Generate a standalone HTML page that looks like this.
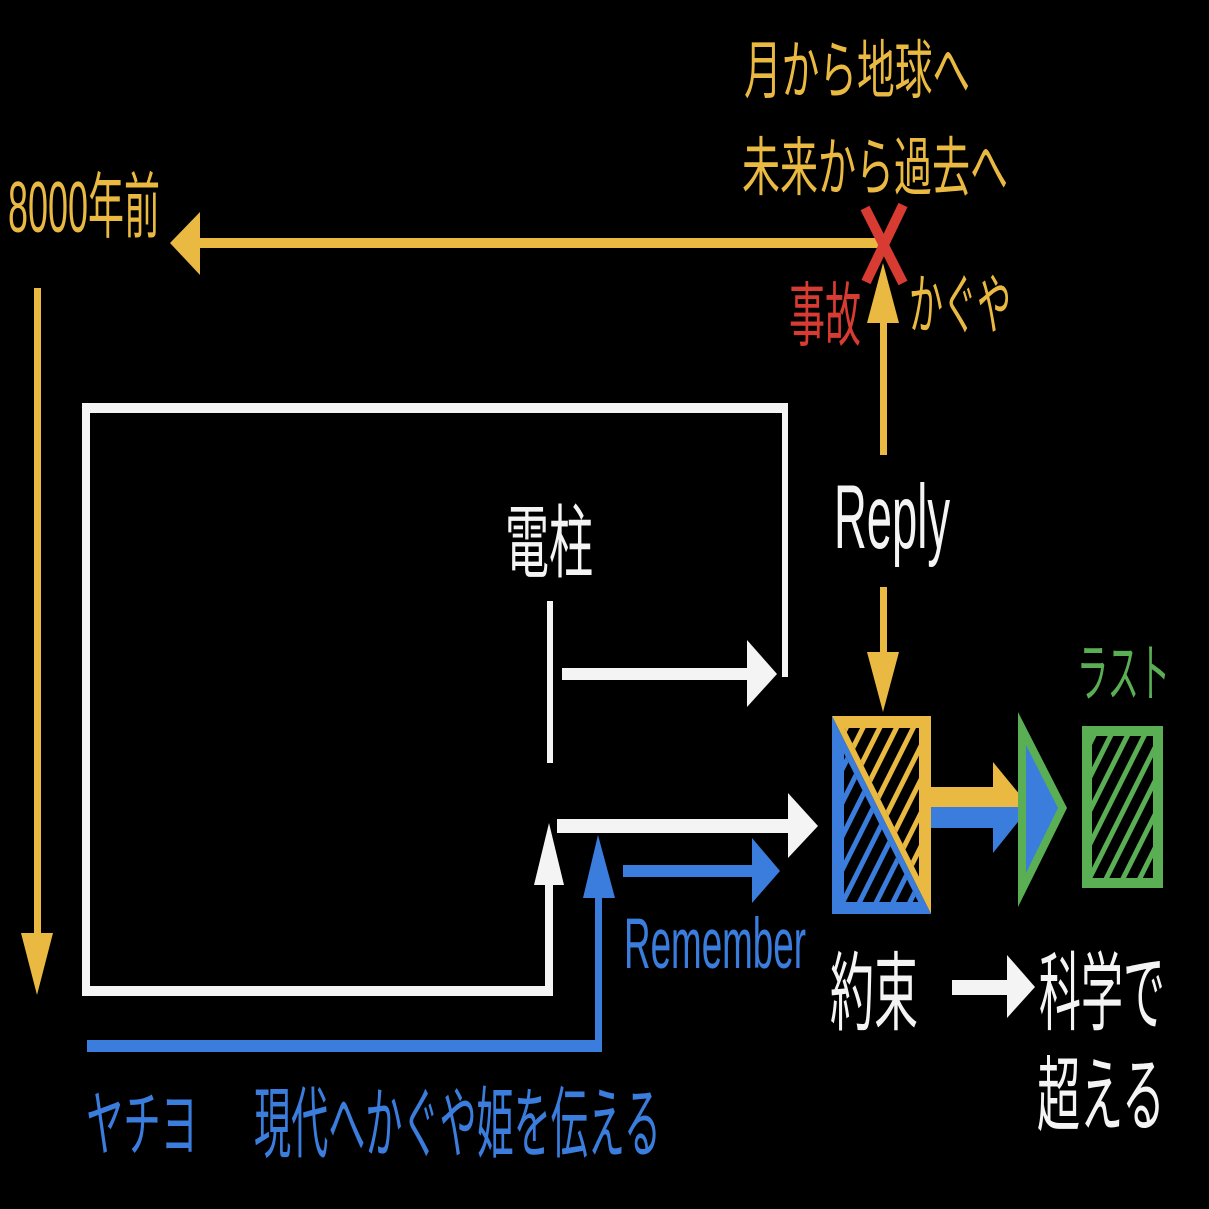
<!DOCTYPE html>
<html><head><meta charset="utf-8"><style>
html,body{margin:0;padding:0;background:#000;}
svg{display:block;}
text{font-family:"Liberation Sans","Noto Sans CJK JP",sans-serif;}
</style></head><body>
<svg width="1209" height="1209" viewBox="0 0 1209 1209" xmlns="http://www.w3.org/2000/svg">
<defs>
<pattern id="py" patternUnits="userSpaceOnUse" width="15" height="15" patternTransform="rotate(26.6)"><rect x="0" y="0" width="5" height="15" fill="#e9b941"/></pattern>
<pattern id="pb" patternUnits="userSpaceOnUse" width="15" height="15" patternTransform="rotate(26.6)"><rect x="0" y="0" width="5" height="15" fill="#3b7ddd"/></pattern>
<pattern id="pg" patternUnits="userSpaceOnUse" width="15" height="15" patternTransform="rotate(26.6)"><rect x="0" y="0" width="5" height="15" fill="#5aaf55"/></pattern>
</defs>
<rect width="1209" height="1209" fill="#000"/>

<!-- top texts -->
<text x="744" y="93" font-size="64" fill="#e9b941" textLength="226" lengthAdjust="spacingAndGlyphs">月から地球へ</text>
<text x="742" y="190" font-size="64" fill="#e9b941" textLength="266" lengthAdjust="spacingAndGlyphs">未来から過去へ</text>
<text x="8" y="232" font-size="72" fill="#e9b941" textLength="152" lengthAdjust="spacingAndGlyphs">8000年前</text>
<text x="789" y="340" font-size="70" fill="#d83b32" textLength="72" lengthAdjust="spacingAndGlyphs">事故</text>
<text x="909" y="328" font-size="66" fill="#e9b941" textLength="102" lengthAdjust="spacingAndGlyphs">かぐや</text>

<!-- yellow horizontal arrow -->
<rect x="198" y="238" width="680" height="10" fill="#e9b941"/>
<polygon points="170,243 200,212 200,275" fill="#e9b941"/>
<!-- yellow left vertical arrow -->
<rect x="34" y="288" width="7" height="647" fill="#e9b941"/>
<polygon points="21,933 53,933 37,995" fill="#e9b941"/>
<!-- yellow center up arrow -->
<rect x="880" y="320" width="7" height="135" fill="#e9b941"/>
<polygon points="883,263 867,323 899,323" fill="#e9b941"/>
<!-- yellow reply down arrow -->
<rect x="880" y="587" width="7" height="67" fill="#e9b941"/>
<polygon points="867,652 899,652 883,712" fill="#e9b941"/>

<!-- red X -->
<line x1="865" y1="208" x2="903" y2="283" stroke="#d83b32" stroke-width="10"/>
<line x1="903" y1="205" x2="866" y2="282" stroke="#d83b32" stroke-width="10"/>

<!-- white rectangle -->
<rect x="82" y="403" width="706" height="10" fill="#f4f4f4"/>
<rect x="82" y="403" width="8" height="593" fill="#f4f4f4"/>
<rect x="782" y="403" width="6" height="274" fill="#f4f4f4"/>
<rect x="82" y="986" width="471" height="10" fill="#f4f4f4"/>
<rect x="545" y="883" width="8" height="113" fill="#f4f4f4"/>
<polygon points="549,823 534,885 564,885" fill="#f4f4f4"/>

<!-- 電柱 -->
<text x="505" y="571" font-size="80" fill="#f4f4f4" textLength="88" lengthAdjust="spacingAndGlyphs">電柱</text>
<rect x="547" y="601" width="6" height="162" fill="#f4f4f4"/>
<!-- white arrow 1 -->
<rect x="562" y="668" width="187" height="12" fill="#f4f4f4"/>
<polygon points="747,640 777,674 747,707" fill="#f4f4f4"/>
<!-- white arrow 2 -->
<rect x="557" y="819" width="233" height="14" fill="#f4f4f4"/>
<polygon points="788,793 818,826 788,858" fill="#f4f4f4"/>

<!-- Reply -->
<text x="834" y="548" font-size="91" fill="#f4f4f4" textLength="116" lengthAdjust="spacingAndGlyphs">Reply</text>

<!-- blue -->
<rect x="87" y="1040" width="515" height="12" fill="#3b7ddd"/>
<rect x="595" y="896" width="7" height="156" fill="#3b7ddd"/>
<polygon points="598,835 583,898 615,898" fill="#3b7ddd"/>
<rect x="623" y="865" width="131" height="12" fill="#3b7ddd"/>
<polygon points="752,838 780,871 752,903" fill="#3b7ddd"/>
<text x="624" y="968" font-size="71" fill="#3b7ddd" textLength="182" lengthAdjust="spacingAndGlyphs">Remember</text>
<text x="86" y="1150" font-size="72" fill="#3b7ddd" textLength="112" lengthAdjust="spacingAndGlyphs">ヤチヨ</text>
<text x="254" y="1151" font-size="78" fill="#3b7ddd" textLength="407" lengthAdjust="spacingAndGlyphs">現代へかぐや姫を伝える</text>

<!-- split box -->
<polygon points="832,716 931,716 931,914" fill="#e9b941"/>
<polygon points="832,716 832,914 931,914" fill="#3b7ddd"/>
<polygon points="844.7,728 919,728 919,876.6" fill="#000"/>
<polygon points="844.7,728 919,728 919,876.6" fill="url(#py)"/>
<polygon points="844,753.4 844,902 918.3,902" fill="#000"/>
<polygon points="844,753.4 844,902 918.3,902" fill="url(#pb)"/>

<!-- combined arrow -->
<rect x="931" y="787" width="64" height="20" fill="#e9b941"/>
<polygon points="993,762 1030,807 993,807" fill="#e9b941"/>
<rect x="931" y="807" width="64" height="21" fill="#3b7ddd"/>
<polygon points="993,807 1030,807 993,853" fill="#3b7ddd"/>

<!-- green triangle -->
<polygon points="1018,712 1018,907 1067,808" fill="#5aaf55"/>
<polygon points="1026,745 1026,873 1058,808" fill="#3b7ddd"/>

<!-- green box -->
<rect x="1082" y="726" width="81" height="162" fill="#5aaf55"/>
<rect x="1092" y="736" width="61" height="142" fill="#000"/>
<rect x="1092" y="736" width="61" height="142" fill="url(#pg)"/>
<text x="1077" y="696" font-size="64" fill="#5aaf55" textLength="93" lengthAdjust="spacingAndGlyphs">ラスト</text>

<!-- bottom right -->
<text x="830" y="1023" font-size="86" fill="#f4f4f4" textLength="88" lengthAdjust="spacingAndGlyphs">約束</text>
<rect x="952" y="980" width="57" height="15" fill="#f4f4f4"/>
<polygon points="1007,955 1035,987 1007,1018" fill="#f4f4f4"/>
<text x="1039" y="1023" font-size="86" fill="#f4f4f4" textLength="126" lengthAdjust="spacingAndGlyphs">科学で</text>
<text x="1037" y="1124" font-size="82" fill="#f4f4f4" textLength="128" lengthAdjust="spacingAndGlyphs">超える</text>
</svg>
</body></html>
